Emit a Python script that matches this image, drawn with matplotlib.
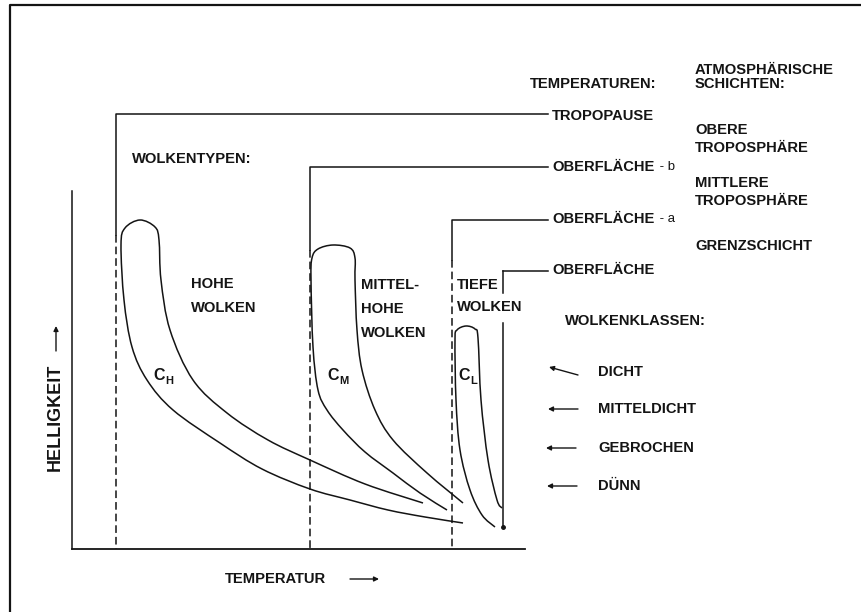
import numpy as np
import matplotlib
matplotlib.use("Agg")
import matplotlib.pyplot as plt
from matplotlib.path import Path
from matplotlib.patches import PathPatch

# diagram is laid out in picture pixels (x to the right, y downwards)

# cloud tongues: knots
ch_x = [463, 425, 388, 350, 310, 262, 220, 173, 147, 132, 124, 121, 125, 140, 155, 159, 161, 170, 193, 227, 268, 310, 365, 423]
ch_y = [523, 517, 510, 500, 489, 469, 443, 410, 380, 347, 300, 245, 228, 220, 227, 240, 280, 330, 380, 413, 440, 460, 484, 503]
cm_x = [447, 420, 393, 365, 343, 327, 318, 313, 311, 312, 318, 333, 350, 355, 355, 357, 362, 375, 393, 427, 463]
cm_y = [510, 493, 473, 452, 430, 410, 390, 347, 280, 258, 249, 245, 248, 258, 280, 330, 370, 410, 440, 473, 503]
cl_x = [495, 482, 470, 460, 456, 455, 457, 466, 475, 478, 481, 488, 497, 502]
cl_y = [527, 515, 490, 450, 400, 340, 330, 326, 329, 338, 400, 460, 500, 508]

# temperature levels
temp_x = [116, 310, 452]
temp_top = [114, 167, 220]
temp_solid_to = [235, 250, 260]
temp_names = ["TROPOPAUSE", "OBERFLÄCHE", "OBERFLÄCHE", "OBERFLÄCHE"]
temp_suffix = ["", " - b", " - a", ""]
temp_label_y = [116, 167, 219, 270]
low_x = 503
low_top = 271
low_segments = [(271, 293), (323, 527)]

layers = ["OBERE\nTROPOSPHÄRE", "MITTLERE\nTROPOSPHÄRE", "GRENZSCHICHT"]
layer_y = [139, 192, 246]

classes = ["DICHT", "MITTELDICHT", "GEBROCHEN", "DÜNN"]
class_y = [372, 409, 448, 486]
class_arrow_tail = [(578, 375), (578, 409), (576, 448), (577, 486)]
class_arrow_head = [(549, 367), (548, 409), (546, 448), (547, 486)]

FONT = "Liberation Sans"
INK = "#141414"
FS = 10.6


def smooth_path(xs, ys):
    pts = np.column_stack([xs, ys]).astype(float)
    p = np.vstack([pts[0], pts, pts[-1]])
    verts = [pts[0]]
    codes = [Path.MOVETO]
    for i in range(1, len(p) - 2):
        c1 = p[i] + (p[i + 1] - p[i - 1]) / 6
        c2 = p[i + 1] - (p[i + 2] - p[i]) / 6
        verts += [c1, c2, p[i + 1]]
        codes += [Path.CURVE4] * 3
    return Path(verts, codes)


def label(x, y, s, size=FS, weight="bold", **kw):
    return ax.text(x, y, s, fontsize=size, fontweight=weight, family=FONT,
                   color=INK, va="center", ha="left", **kw)


fig = plt.figure(figsize=(8.62, 6.12), dpi=100)
ax = fig.add_axes([0, 0, 1, 1])
ax.set_xlim(0, 862)
ax.set_ylim(612, 0)
ax.axis("off")

# frame of the scan
ax.plot([10, 10, 862], [612, 5, 5], color=INK, lw=1.6)

# axes of the sketch
ax.plot([72, 72], [191, 549], color=INK, lw=1.1)
ax.plot([72, 525], [549, 549], color=INK, lw=1.3)

# temperature levels: solid from the label line, dashed below
for x, top, solid, name, suf, ly in zip(temp_x, temp_top, temp_solid_to,
                                        temp_names, temp_suffix, temp_label_y):
    ax.plot([548, x, x], [top, top, solid], color=INK, lw=1.1)
    ax.plot([x, x], [solid, 549], color=INK, lw=1.1, linestyle=(0, (5, 2.6)))
    t = label(552, ly, name)
    if suf:
        ax.annotate(suf, xy=(1, 0.5), xycoords=t, xytext=(1, 0),
                    textcoords="offset points", va="center", ha="left",
                    fontsize=9.5, family=FONT, color=INK)
ax.plot([low_x, 548], [low_top, low_top], color=INK, lw=1.1)
for y0, y1 in low_segments:
    ax.plot([low_x, low_x], [y0, y1], color=INK, lw=1.1)
ax.plot([low_x], [527], "o", color=INK, ms=2.5)
label(552, temp_label_y[3], temp_names[3])

# cloud tongues
for xs, ys in [(ch_x, ch_y), (cm_x, cm_y), (cl_x, cl_y)]:
    ax.add_patch(PathPatch(smooth_path(xs, ys), fill=False, ec=INK, lw=1.1))

# headings
label(530, 84, "TEMPERATUREN:")
label(695, 77, "ATMOSPHÄRISCHE\nSCHICHTEN:", linespacing=1.0)
for s, y in zip(layers, layer_y):
    label(695, y, s, linespacing=1.45)
label(132, 159, "WOLKENTYPEN:")
label(191, 296, "HOHE\nWOLKEN", linespacing=1.95)
label(361, 309, "MITTEL-\nHOHE\nWOLKEN", linespacing=1.95)
label(457, 296, "TIEFE\nWOLKEN", linespacing=1.75)
label(565, 321, "WOLKENKLASSEN:")

# cloud class names with arrows
for s, y, tail, head in zip(classes, class_y, class_arrow_tail, class_arrow_head):
    label(598, y, s)
    ax.annotate("", xy=head, xytext=tail,
                arrowprops=dict(arrowstyle="-|>", color=INK, lw=1.0,
                                mutation_scale=7, shrinkA=0, shrinkB=0))

# C_H, C_M, C_L
for x, y, sub in [(153, 376, "H"), (327, 376, "M"), (458, 376, "L")]:
    c = label(x, y, "C", size=11.5)
    ax.annotate(sub, xy=(1, 0.2), xycoords=c, xytext=(0.5, 0),
                textcoords="offset points", va="center", ha="left",
                fontsize=8, fontweight="bold", family=FONT, color=INK)

# axis titles with arrows
ax.text(55, 417, "HELLIGKEIT", rotation=90, fontsize=13, fontweight="bold",
        family=FONT, color=INK, ha="center", va="center")
ax.annotate("", xy=(56, 326), xytext=(56, 351),
            arrowprops=dict(arrowstyle="-|>", color=INK, lw=1.0,
                            mutation_scale=7, shrinkA=0, shrinkB=0))
label(225, 579, "TEMPERATUR")
ax.annotate("", xy=(379, 579), xytext=(350, 579),
            arrowprops=dict(arrowstyle="-|>", color=INK, lw=1.0,
                            mutation_scale=7, shrinkA=0, shrinkB=0))

fig.savefig("out.png", dpi=100)
